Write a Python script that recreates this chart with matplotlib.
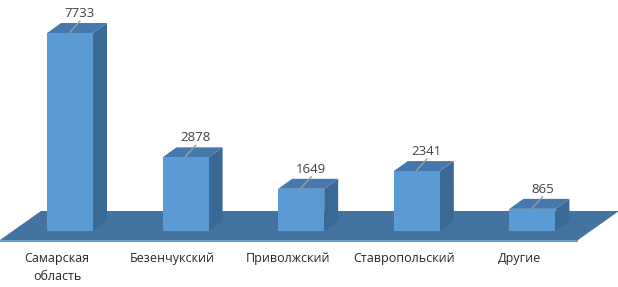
import matplotlib.pyplot as plt
from matplotlib.patches import Polygon

# Данные диаграммы
categories = ['Самарская\nобласть', 'Безенчукский', 'Приволжский', 'Ставропольский', 'Другие']
values = [7733, 2878, 1649, 2341, 865]

W, H = 618, 287
px_x = 115.6        # пикселей на одну категорию
px_y = 0.0256       # пикселей на единицу значения

fig = plt.figure(figsize=(W / 100, H / 100), dpi=100)
ax = fig.add_axes([0, 0, 1, 1])
x0 = -70 / px_x
y0 = -56 / px_y
ax.set_xlim(x0, x0 + W / px_x)
ax.set_ylim(y0, y0 + H / px_y)
ax.axis('off')

# перевод пикселей в единицы данных
def dx(p):
    return p / px_x

def dy(p):
    return p / px_y

front_c = '#5b9bd5'
top_c = '#4579ad'
side_c = '#3b6995'
floor_c = '#44739f'

# Пол (основание)
fl_front = dy(-9)
fl_back = dy(20)
fl_left = dx(-70)
fl_right = dx(508)
shift = dx(41)
ax.add_patch(Polygon([(fl_left, fl_front), (fl_right, fl_front),
                      (fl_right + shift, fl_back), (fl_left + shift, fl_back)],
                     closed=True, facecolor=floor_c, edgecolor='none', zorder=1))
ax.add_patch(Polygon([(fl_left, fl_front), (fl_right, fl_front),
                      (fl_right, fl_front - dy(1.5)), (fl_left, fl_front - dy(1.5))],
                     closed=True, facecolor='#6a9ac8', edgecolor='none', zorder=1))

# Столбцы
half = dx(23)
ddx, ddy = dx(14), dy(10)
for i, v in enumerate(values):
    l, r = i - half, i + half
    ax.add_patch(Polygon([(r, 0), (r + ddx, ddy), (r + ddx, v + ddy), (r, v)],
                         closed=True, facecolor=side_c, edgecolor='none', zorder=2))
    ax.add_patch(Polygon([(l, v), (r, v), (r + ddx, v + ddy), (l + ddx, v + ddy)],
                         closed=True, facecolor=top_c, edgecolor='none', zorder=2))
    ax.add_patch(Polygon([(l, 0), (r, 0), (r, v), (l, v)],
                         closed=True, facecolor=front_c, edgecolor='none', zorder=3))
    # выноска и подпись значения
    ax.plot([i, i + dx(10)], [v + dy(1), v + ddy + dy(2)], color='#a0a0a0', lw=1.0, zorder=4)
    ax.text(i + dx(10), v + ddy + dy(3), str(v), ha='center', va='bottom',
            fontsize=9.5, color='#404040', family='Open Sans', zorder=5)
    # подпись категории
    ax.text(i - dx(13), dy(-21), categories[i], ha='center', va='top',
            fontsize=9, color='#262626', family='Open Sans', linespacing=1.5)

fig.savefig('out.png', dpi=100)
